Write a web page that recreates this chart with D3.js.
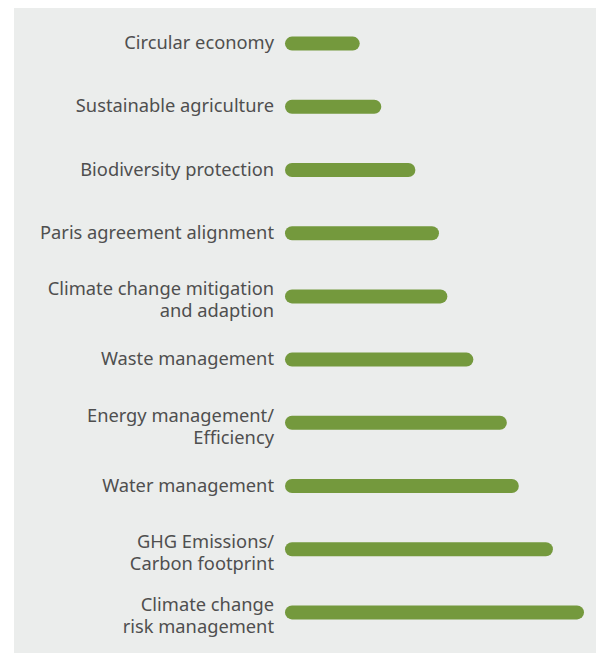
<!DOCTYPE html>
<html>
<head>
<meta charset="utf-8">
<script src="https://cdn.jsdelivr.net/npm/d3@7"></script>
<style>
body { margin: 0; background: #fff; }
svg { display: block; }
</style>
</head>
<body>
<svg width="596" height="653"></svg>
<script>
let categories = [
    ["Circular economy"],
    ["Sustainable agriculture"],
    ["Biodiversity protection"],
    ["Paris agreement alignment"],
    ["Climate change mitigation", "and adaption"],
    ["Waste management"],
    ["Energy management/", "Efficiency"],
    ["Water management"],
    ["GHG Emissions/", "Carbon footprint"],
    ["Climate change", "risk management"]
]
let values = [25.0, 32.2, 43.6, 51.5, 54.3, 63.0, 74.2, 78.2, 89.6, 100]

let svg = d3.select("svg")
svg.append("rect")
    .attr("x", 14).attr("y", 8)
    .attr("width", 582).attr("height", 645)
    .attr("fill", "#ebedec")

let x = d3.scaleLinear().domain([0, 100]).range([285, 584])
let y = d3.scaleBand()
    .domain(d3.range(categories.length))
    .range([12, 644])
    .paddingInner(0)

let rows = svg.append("g").selectAll("g")
    .data(values)
    .join("g")
    .attr("transform", (d, i) => "translate(0," + (y(i) + y.bandwidth() / 2) + ")")

rows.append("rect")
    .attr("x", x(0))
    .attr("y", -7)
    .attr("height", 14)
    .attr("width", d => x(d) - x(0))
    .attr("rx", 7)
    .attr("fill", "#74993d")

// one-line labels sit on the bar, two-line labels hang below it
rows.append("text")
    .attr("text-anchor", "end")
    .attr("font-family", "Noto Sans")
    .attr("font-size", 18.3)
    .attr("fill", "#4f4f4f")
    .selectAll("tspan")
    .data((d, i) => categories[i].map((t, j, a) => ({t: t, y: a.length == 1 ? 5.5 : -1 + j * 22})))
    .join("tspan")
    .attr("x", 274)
    .attr("y", d => d.y)
    .text(d => d.t)
</script>
</body>
</html>
